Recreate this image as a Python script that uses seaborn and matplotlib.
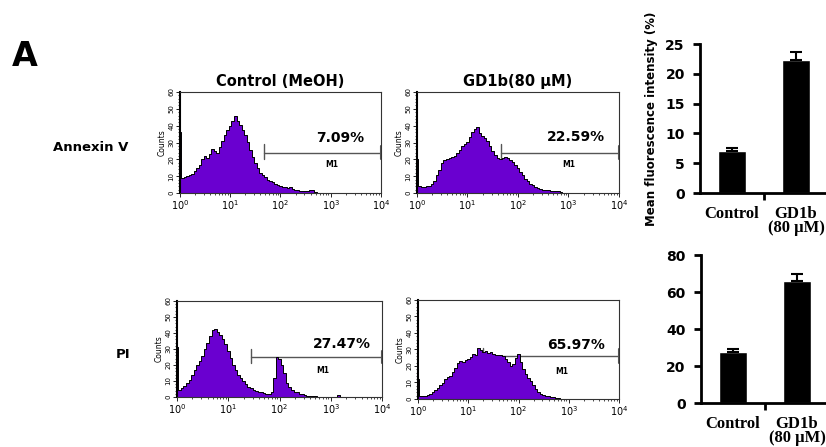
import numpy as np
import matplotlib
matplotlib.use("Agg")
import matplotlib.pyplot as plt
from matplotlib.ticker import MultipleLocator
import seaborn as sns

# -----------------------------
# Data
# -----------------------------
# histogram bins in log10 units, centred on 0.00, 0.05, ... 3.20
log_edges = np.linspace(-0.025, 3.225, 66)
log_centers = (log_edges[:-1] + log_edges[1:]) / 2

annexin_ctrl = [36, 9, 9.5, 10, 10.5, 11.5, 13, 15, 16.5, 20,
                22, 20.5, 23, 26, 25, 24, 27.5, 31, 34.5, 37.5,
                40, 43, 46, 42.5, 40.5, 37.5, 34.5, 30.5, 25.5, 21.5,
                18, 15, 12, 10.5, 9.3, 8, 7, 6.3, 5.3, 4.6,
                4.2, 3.6, 3.8, 3.0, 3.6, 2.4, 1.8, 1.6, 1.4, 1.2,
                1.0, 1.0, 1.6, 1.8, 0.4, 0, 0, 0, 0, 0,
                0, 0, 0, 0, 0]
annexin_gd1b = [20, 4, 3.4, 3.6, 4, 4.4, 5.3, 7.3, 10.5, 13.9,
                17.8, 19.8, 20.4, 20.8, 21.2, 21.8, 23.8, 25.7, 27.7, 29,
                30.5, 33.5, 36, 38, 39, 35.6, 33.7, 32.7, 30.7, 27.7,
                24.8, 22.8, 20.8, 20.4, 20.8, 21.2, 20.8, 19.8, 18.4, 16.8,
                14.9, 12.5, 10.5, 8.5, 6.9, 5.5, 4.6, 3.8, 3.0, 2.6,
                2.0, 1.8, 1.6, 1.4, 1.4, 1.2, 1.0, 0.8, 0.3, 0,
                0, 0, 0, 0, 0]
pi_ctrl = [31, 4.3, 5.3, 6.8, 8.5, 10.6, 13.8, 17, 20.2, 22.3,
           25.5, 29.8, 34, 38.3, 41.9, 42.6, 40.9, 38.7, 36.2, 33,
           28.7, 24.5, 20.2, 17, 13.8, 11.7, 10.2, 8.1, 6.4, 5.3,
           4.3, 3.6, 3.2, 2.8, 2.6, 2.1, 2.1, 3, 12, 25,
           24, 20, 15, 9, 6, 4.3, 3.2, 2.8, 2.1, 1.7,
           1.3, 0.9, 0.6, 0.6, 0.4, 0.2, 0, 0, 0, 0,
           0, 0, 0, 1.0, 0]
pi_gd1b = [12, 1.7, 1.7, 2.1, 2.3, 3.1, 4.1, 5.4, 6.8, 8.5,
           9.9, 12, 13.5, 14.1, 16.1, 18.8, 21.7, 23, 22.4, 23.4,
           24.4, 25.5, 27.1, 26.5, 30.6, 29.6, 28.6, 29.2, 27.9, 28.6,
           27.5, 26.9, 26.5, 26.5, 25.9, 24.4, 22.4, 20, 21.5, 25,
           27.1, 22.4, 18.2, 15.1, 13, 11, 8.5, 5.8, 4.1, 3.1,
           2.3, 1.9, 1.9, 1, 1, 0.8, 0.4, 0.2, 0, 0,
           0, 0, 0, 0, 0]

column_titles = ["Control (MeOH)", "GD1b(80 μM)"]
row_labels = ["Annexin V", "PI"]
m1_percent = ["7.09%", "22.59%", "27.47%", "65.97%"]

bar_groups = ["Control", "GD1b\n(80 μM)"]
annexin_mean = [7.1, 22.4]
annexin_err = [0.5, 1.2]
pi_mean = [27.6, 66.1]
pi_err = [1.6, 3.5]

purple = "#6a00d0"

# -----------------------------
# Figure
# -----------------------------
sns.set_style("ticks")
plt.rcParams["font.family"] = ["DejaVu Sans"]
plt.rcParams["text.color"] = "black"
plt.rcParams["axes.labelcolor"] = "black"
plt.rcParams["axes.edgecolor"] = "black"
plt.rcParams["xtick.color"] = "black"
plt.rcParams["ytick.color"] = "black"

fig = plt.figure(figsize=(8.26, 4.47), dpi=100)

# axes boxes: [left, bottom, width, height] in figure fraction
hist_boxes = [[0.2179, 0.5682, 0.2433, 0.2260],
              [0.5048, 0.5682, 0.2446, 0.2260],
              [0.2143, 0.1119, 0.2482, 0.2148],
              [0.5061, 0.1074, 0.2433, 0.2215]]
# gate start (log10), gate height, percent text xy, M1 text xy (axes fraction)
gates = [(1.67, 24, (0.796, 0.54), (0.756, 0.28)),
         (1.66, 24, (0.787, 0.55), (0.752, 0.28)),
         (1.44, 25, (0.805, 0.55), (0.712, 0.28)),
         (1.30, 26, (0.786, 0.55), (0.716, 0.28))]
hist_data = [annexin_ctrl, annexin_gd1b, pi_ctrl, pi_gd1b]


def draw_hist(ax, counts, pct, gate):
    lo, gy, pct_xy, m1_xy = gate
    # M1 gate marker sits under the histogram fill
    ax.plot([10 ** lo, 1e4], [gy, gy], color="#555555", lw=1, zorder=0.5)
    ax.plot([10 ** lo] * 2, [gy - 4, gy + 5], color="#555555", lw=1, zorder=0.5)
    ax.plot([1e4] * 2, [gy - 4, gy + 4], color="#555555", lw=1.5, zorder=0.5)
    sns.histplot(x=10 ** log_centers, weights=counts, bins=list(log_edges),
                 log_scale=True, element="step", fill=True, color=purple,
                 edgecolor="black", linewidth=0.7, alpha=1, ax=ax)
    ax.set_xlim(1, 1e4)
    ax.set_ylim(0, 60)
    ax.set_xlabel("")
    ax.set_ylabel("Counts", fontsize=5.5, labelpad=1)
    ax.yaxis.set_major_locator(MultipleLocator(10))
    ax.yaxis.set_minor_locator(MultipleLocator(2))
    ax.tick_params(axis="y", which="major", labelsize=5, labelrotation=90,
                   length=3, width=0.6, pad=1)
    ax.tick_params(axis="y", which="minor", length=1.5, width=0.5)
    ax.tick_params(axis="x", which="major", labelsize=7, length=3, width=0.6, pad=1)
    ax.tick_params(axis="x", which="minor", length=1.5, width=0.5)
    for lbl in ax.get_yticklabels():
        lbl.set_va("center")
    for side in ["top", "right", "bottom"]:
        ax.spines[side].set_color("#333333")
        ax.spines[side].set_linewidth(0.8)
    ax.spines["left"].set_linewidth(1.5)
    ax.text(*pct_xy, pct, transform=ax.transAxes, ha="center", va="center",
            fontsize=10, fontweight="bold")
    ax.text(*m1_xy, "M1", transform=ax.transAxes, ha="center", va="center",
            fontsize=5.5, fontweight="bold")


for i in range(4):
    ax = fig.add_axes(hist_boxes[i])
    draw_hist(ax, hist_data[i], m1_percent[i], gates[i])
    if i < 2:
        ax.set_title(column_titles[i], fontsize=10.5, fontweight="bold", pad=4)


def draw_bars(ax, means, errs, ymax, step):
    sns.barplot(x=bar_groups, y=means, color="black", width=0.44,
                errorbar=None, saturation=1, ax=ax)
    ax.errorbar(x=[0, 1], y=means, yerr=[[0, 0], errs], fmt="none",
                ecolor="black", elinewidth=1.5, capsize=4, capthick=1.5)
    ax.set_xlim(-0.5, 1.5)
    ax.set_ylim(0, ymax)
    ax.yaxis.set_major_locator(MultipleLocator(step))
    sns.despine(ax=ax)
    for side in ["left", "bottom"]:
        ax.spines[side].set_linewidth(2)
    ax.tick_params(axis="y", length=5, width=2, labelsize=10, pad=6)
    for lbl in ax.get_yticklabels():
        lbl.set_fontweight("bold")
    ax.tick_params(axis="x", which="major", length=0, pad=9)
    ax.set_xticks([0.5], minor=True)
    ax.tick_params(axis="x", which="minor", length=5, width=2, direction="out")
    for lbl in ax.get_xticklabels():
        lbl.set_fontfamily("Liberation Serif")
        lbl.set_fontweight("bold")
        lbl.set_fontsize(12)
        lbl.set_linespacing(0.9)


ax_b1 = fig.add_axes([0.8475, 0.5682, 0.1550, 0.3333])
draw_bars(ax_b1, annexin_mean, annexin_err, 25, 5)
ax_b1.set_ylabel("Mean fluorescence intensity (%)", fontsize=8.5,
                 fontweight="bold", labelpad=5)

ax_b2 = fig.add_axes([0.8487, 0.0984, 0.1550, 0.3311])
draw_bars(ax_b2, pi_mean, pi_err, 80, 20)

# panel letter and row labels
fig.text(25 / 826, 1 - 56 / 447, "A", fontsize=24, fontweight="bold",
         ha="center", va="center")
fig.text(91 / 826, 1 - 147 / 447, row_labels[0], fontsize=9.5,
         fontweight="bold", ha="center", va="center")
fig.text(123 / 826, 1 - 354 / 447, row_labels[1], fontsize=9.5,
         fontweight="bold", ha="center", va="center")

fig.savefig("out.png", dpi=100)
